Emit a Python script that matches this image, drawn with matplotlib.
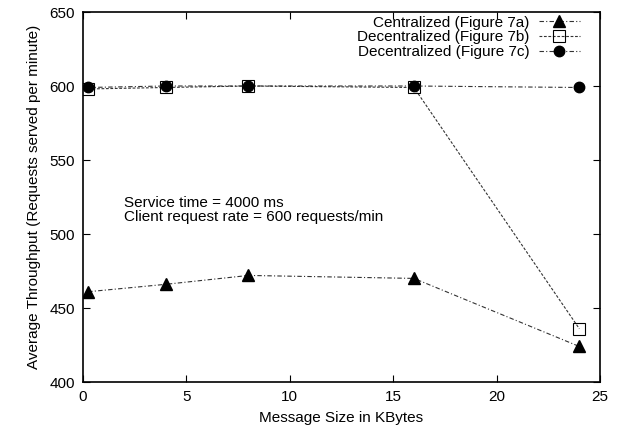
import matplotlib
matplotlib.use('Agg')
import matplotlib.pyplot as plt

plt.rcParams['font.family'] = 'Liberation Sans'
plt.rcParams['font.size'] = 11

# data
msg_size = [0.25, 4, 8, 16, 24]
central_7a = [461, 466, 472, 470, 424]
decentral_7b = [598, 599, 600, 599, 436]
decentral_7c = [599, 600, 600, 600, 599]

fig = plt.figure(figsize=(6.24, 4.33), dpi=100)
ax = fig.add_axes([83 / 624, 1 - 382 / 433, 517 / 624, 370 / 433])

ax.plot(msg_size, central_7a, color='#333333', lw=0.8, dashes=[4, 2, 1, 2],
        marker='^', ms=8, mfc='black', mec='black', label='Centralized (Figure 7a)')
ax.plot(msg_size, decentral_7b, color='#333333', lw=0.8, dashes=[2.5, 1.5],
        marker='s', ms=8, mfc='none', mec='black', mew=0.8, label='Decentralized (Figure 7b)')
ax.plot(msg_size, decentral_7c, color='#333333', lw=0.8, dashes=[4, 2, 1, 2],
        marker='o', ms=7.5, mfc='black', mec='black', label='Decentralized (Figure 7c)')

ax.set_xlim(0, 25)
ax.set_ylim(400, 650)
ax.set_xticks(range(0, 26, 5))
ax.set_yticks(range(400, 651, 50))
ax.tick_params(direction='in', top=True, right=True, length=5, width=0.8, pad=6)
for s in ax.spines.values():
    s.set_linewidth(1.2)

ax.set_xlabel('Message Size in KBytes', labelpad=5)
ax.set_ylabel('Average Throughput (Requests served per minute)', labelpad=6)

ax.text(2.0, 516, 'Service time = 4000 ms\nClient request rate = 600 requests/min',
        linespacing=1.0, va='center')

ax.legend(loc='upper right', bbox_to_anchor=(0.961, 0.99), markerfirst=False,
          frameon=False, handlelength=2.7, borderpad=0, borderaxespad=0,
          labelspacing=0.05, handletextpad=0.6)

fig.savefig('out.png', dpi=100)
